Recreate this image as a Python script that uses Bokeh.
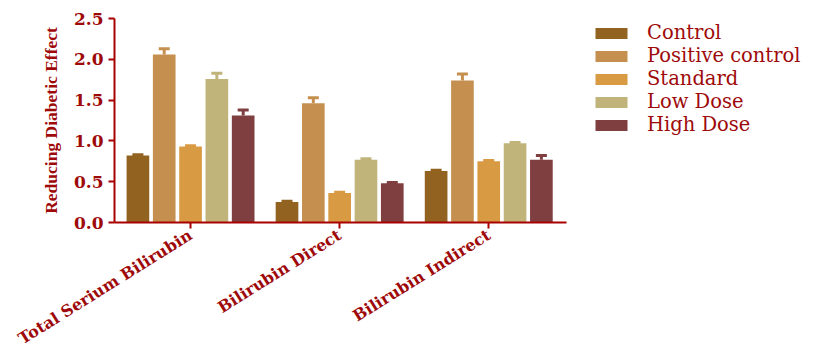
from bokeh.plotting import figure
from bokeh.models import (ColumnDataSource, Range1d, Legend, LegendItem,
                          Whisker, TeeHead, NumeralTickFormatter, FixedTicker)
from bokeh.embed import file_html
from bokeh.resources import INLINE
import math

# Parameters measured for each bilirubin fraction
groups = ["Total Serium Bilirubin", "Bilirubin Direct", "Bilirubin Indirect"]
series = ["Control", "Positive control", "Standard", "Low Dose", "High Dose"]

control = [0.82, 0.25, 0.63]
positive_control = [2.06, 1.46, 1.74]
standard = [0.93, 0.36, 0.75]
low_dose = [1.76, 0.77, 0.97]
high_dose = [1.31, 0.48, 0.77]

control_err = [0.01, 0.01, 0.01]
positive_control_err = [0.07, 0.07, 0.08]
standard_err = [0.01, 0.01, 0.01]
low_dose_err = [0.07, 0.01, 0.01]
high_dose_err = [0.07, 0.01, 0.05]

y_ticks = [0.0, 0.5, 1.0, 1.5, 2.0, 2.5]

colors = ["#916220", "#c5904f", "#d89a43", "#c0b47b", "#7f3e3f"]
axis_red = "#a80000"
text_red = "#9e0a0a"

values = [control, positive_control, standard, low_dose, high_dose]
errors = [control_err, positive_control_err, standard_err, low_dose_err, high_dose_err]

# group centres sit at 0.5, 1.5, 2.5; the frame runs on to the right edge
# so the legend can live inside it, while the x axis line stops after the
# last group
centres = [i + 0.5 for i in range(len(groups))]
x_start, axis_end, x_end = -0.01, 3.024, 4.678

p = figure(
    width=813, height=360,
    x_range=Range1d(x_start, x_end),
    y_range=Range1d(0, 2.5),
    output_backend="svg", toolbar_location=None,
    min_border_left=114, min_border_right=0,
    min_border_top=18, min_border_bottom=138,
)
p.background_fill_color = "white"
p.border_fill_color = "white"
p.outline_line_color = None
p.grid.visible = False

pitch = 0.1765
bar_width = 0.152
items = []
for i, (name, vals, errs, col) in enumerate(zip(series, values, errors, colors)):
    offset = (i - 2) * pitch
    src = ColumnDataSource(dict(
        x=[c + offset for c in centres],
        top=vals,
        upper=[v + e for v, e in zip(vals, errs)],
    ))
    r = p.vbar(x="x", top="top", width=bar_width, source=src,
               fill_color=col, line_color=None)
    w = Whisker(source=src, base="x", lower="top", upper="upper",
                dimension="height", line_color=col, line_width=3,
                lower_head=None,
                upper_head=TeeHead(size=11, line_color=col, line_width=3))
    p.add_layout(w)
    items.append(LegendItem(label=name, renderers=[r]))

legend = Legend(
    items=items, location=(477, 86),
    padding=0, margin=0, spacing=0,
    glyph_width=40, glyph_height=14, label_height=20,
    label_standoff=16,
    label_text_font="DejaVu Serif", label_text_font_size="19.5px",
    label_text_color=text_red,
    border_line_color=None, background_fill_alpha=0,
)
p.add_layout(legend, "center")

# y axis
p.yaxis.ticker = FixedTicker(ticks=y_ticks)
p.yaxis.formatter = NumeralTickFormatter(format="0.0")
p.yaxis.axis_label = "Reducing Diabetic Effect"
p.yaxis.axis_label_text_font = "Liberation Serif"
p.yaxis.axis_label_text_font_style = "bold"
p.yaxis.axis_label_text_font_size = "17.5px"
p.yaxis.axis_label_text_color = text_red
p.yaxis.axis_label_standoff = 10
p.yaxis.major_label_text_font = "DejaVu Serif"
p.yaxis.major_label_text_font_style = "bold"
p.yaxis.major_label_text_font_size = "17px"
p.yaxis.major_label_text_color = text_red
p.yaxis.major_label_standoff = 5
p.yaxis.minor_tick_line_color = None

# x axis: one tick per group, labelled with the group name
p.xaxis.bounds = (x_start, axis_end)
p.xaxis.ticker = FixedTicker(ticks=centres)
p.xaxis.major_label_overrides = {c: g for c, g in zip(centres, groups)}
p.xaxis.minor_tick_line_color = None
p.xaxis.major_label_orientation = math.radians(32)
p.xaxis.major_label_text_font = "DejaVu Serif"
p.xaxis.major_label_text_font_style = "bold"
p.xaxis.major_label_text_font_size = "16px"
p.xaxis.major_label_text_color = text_red
p.xaxis.major_label_standoff = 5

for ax in (p.xaxis, p.yaxis):
    ax.axis_line_color = axis_red
    ax.axis_line_width = 2
    ax.major_tick_line_color = axis_red
    ax.major_tick_line_width = 2
    ax.major_tick_out = 6
    ax.major_tick_in = 0

open("out.html", "w").write(file_html(p, INLINE))
